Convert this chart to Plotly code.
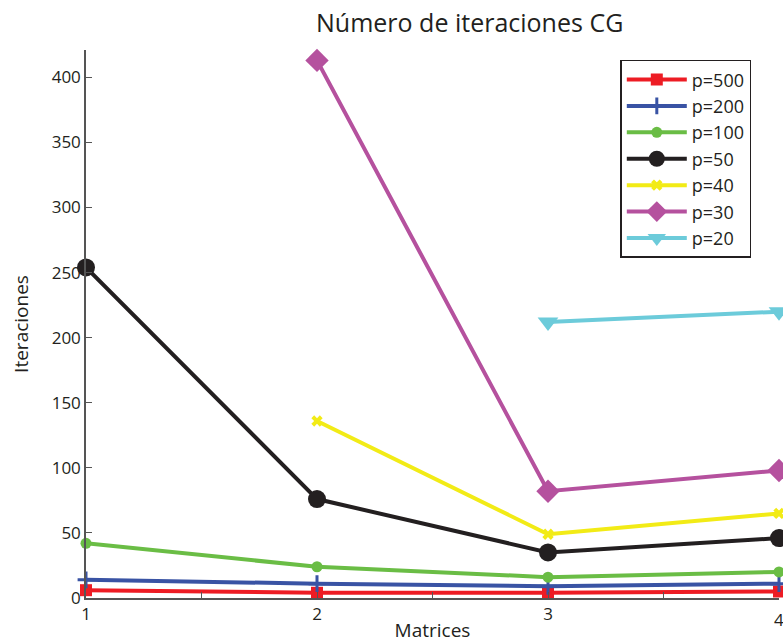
import plotly.graph_objects as go

# Matrices evaluated on the x axis
matrices = [1, 2, 3, 4]

# CG iteration counts per preconditioner parameter p (None = not converged / not run)
p500 = [6, 4, 4, 5]
p200 = [14, 11, 9, 11]
p100 = [42, 24, 16, 20]
p50 = [254, 76, 35, 46]
p40 = [None, 136, 49, 65]
p30 = [None, 413, 82, 98]
p20 = [None, None, 212, 220]

series = [
    ("p=500", p500, "#ED1C24", "square", 12),
    ("p=200", p200, "#3953A4", "cross-thin", 12),
    ("p=100", p100, "#6ABD45", "circle", 11),
    ("p=50", p50, "#231F20", "circle", 18),
    ("p=40", p40, "#F2EB16", "x", 10),
    ("p=30", p30, "#B5519E", "diamond", 18),
    ("p=20", p20, "#6CCBDA", "triangle-down", 18),
]

fig = go.Figure()
for name, vals, color, symbol, size in series:
    fig.add_trace(go.Scatter(
        x=matrices, y=vals, name=name, mode="lines+markers",
        line=dict(color=color, width=4),
        marker=dict(symbol=symbol, size=size, color=color,
                    line=dict(color=color, width=3 if symbol == "cross-thin" else 0)),
        cliponaxis=False,
    ))

font_family = "Open Sans, Noto Sans, sans-serif"
text_color = "#231F20"

fig.update_layout(
    width=783, height=644,
    margin=dict(l=86, r=4, t=50, b=46),
    plot_bgcolor="white", paper_bgcolor="white",
    font=dict(family=font_family, size=17, color=text_color),
    showlegend=True,
    legend=dict(
        x=0.771, y=0.982, xanchor="left", yanchor="top",
        bordercolor="#231F20", borderwidth=1.5, bgcolor="white",
        font=dict(size=18), tracegroupgap=0, itemwidth=60,
    ),
    xaxis=dict(
        range=[1, 4], showgrid=False, zeroline=False,
        showline=True, linecolor="#555555", linewidth=1.5,
        tickvals=[1, 1.5, 2, 2.5, 3, 3.5, 4],
        ticktext=["1", "", "2", "", "3", "", "4"],
        ticks="inside", ticklen=6, tickcolor="#555555",
        tickfont=dict(size=17),
        title=dict(text="Matrices", font=dict(size=19), standoff=0),
    ),
    yaxis=dict(
        range=[0, 421], showgrid=False, zeroline=False,
        showline=True, linecolor="#555555", linewidth=1.5,
        tickvals=[0, 50, 100, 150, 200, 250, 300, 350, 400],
        ticks="inside", ticklen=6, tickcolor="#555555",
        tickfont=dict(size=17),
        title=dict(text="Iteraciones", font=dict(size=19), standoff=18),
    ),
)

# Last category label sits on the right page edge
fig.add_annotation(
    text="4", xref="x", yref="paper", x=4, y=0, yshift=-8,
    xanchor="center", yanchor="top", showarrow=False,
    font=dict(size=17, color=text_color),
)

fig.add_annotation(
    text="Número de iteraciones CG", xref="paper", yref="paper",
    x=0.554, y=1.051, xanchor="center", yanchor="middle",
    showarrow=False, font=dict(size=25, color=text_color),
)

fig.write_html("out.html")
